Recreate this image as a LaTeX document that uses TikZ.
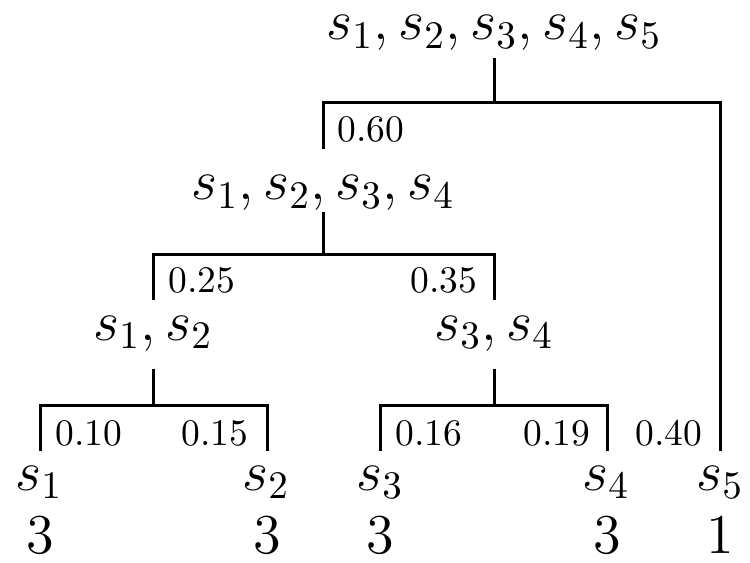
\RequirePackage{fix-cm}
\documentclass[tikz,border=0pt]{standalone}
\DeclareMathSizes{15}{15}{10.4}{7.5}
\begin{document}
\begin{tikzpicture}[x=0.2667pt,y=-0.2667pt,
  big/.style={font=\fontsize{15pt}{18pt}\selectfont, inner sep=0pt, anchor=base},
  small/.style={font=\normalsize, inner sep=0pt},
  tree/.style={line width=0.8pt}]
\useasboundingbox (0,0) rectangle (750,562);
% set nodes
\node[big, outer ysep=2pt] (root) at (494,40) {$s_1, s_2, s_3, s_4, s_5$};
\node[big] (n1234) at (323,200) {$s_1, s_2, s_3, s_4$};
\node[big, outer ysep=4.7pt] (n12) at (153,340) {$s_1, s_2$};
\node[big, outer ysep=4.7pt] (n34) at (494,340) {$s_3, s_4$};
\node[big] (l1) at (39,490) {$s_1$};
\node[big] (l2) at (266,490) {$s_2$};
\node[big] (l3) at (380,490) {$s_3$};
\node[big] (l4) at (606,490) {$s_4$};
\node[big] (l5) at (720,490) {$s_5$};
\node[big] (c1) at (40,553) {$3$};
\node[big] (c2) at (267,553) {$3$};
\node[big] (c3) at (380,553) {$3$};
\node[big] (c4) at (607,553) {$3$};
\node[big] (c5) at (720,553) {$1$};
% probabilities
\node[small, anchor=base west] (p60) at (337,142) {0.60};
\node[small, anchor=base west] (p25) at (168,293) {0.25};
\node[small, anchor=base east] (p35) at (478,293) {0.35};
\node[small, anchor=base west] (p10) at (55,445) {0.10};
\node[small, anchor=base east] (p15) at (249,445) {0.15};
\node[small, anchor=base west] (p16) at (395,445) {0.16};
\node[small, anchor=base east] (p19) at (591,445) {0.19};
\node[small, anchor=base east] (p40) at (703,445) {0.40};
% junctions and branch ends
\coordinate (b0) at (494,103);
\coordinate (e1234) at (323,149);
\coordinate (e5) at (720,451);
\coordinate (b1) at (323,255);
\coordinate (e12) at (153,300);
\coordinate (e34) at (494,300);
\coordinate (b2) at (153,405);
\coordinate (e1) at (40,451);
\coordinate (e2) at (267,451);
\coordinate (b3) at (494,405);
\coordinate (e3) at (380,451);
\coordinate (e4) at (607,451);
% connectors
\draw[tree] (root.south) -- (b0);
\draw[tree] (e1234) |- (b0) -| (e5);
\draw[tree] (n1234.south) -- (b1);
\draw[tree] (e12) |- (b1) -| (e34);
\draw[tree] (n12.south) -- (b2);
\draw[tree] (e1) |- (b2) -| (e2);
\draw[tree] (n34.south) -- (b3);
\draw[tree] (e3) |- (b3) -| (e4);
\end{tikzpicture}
\end{document}
